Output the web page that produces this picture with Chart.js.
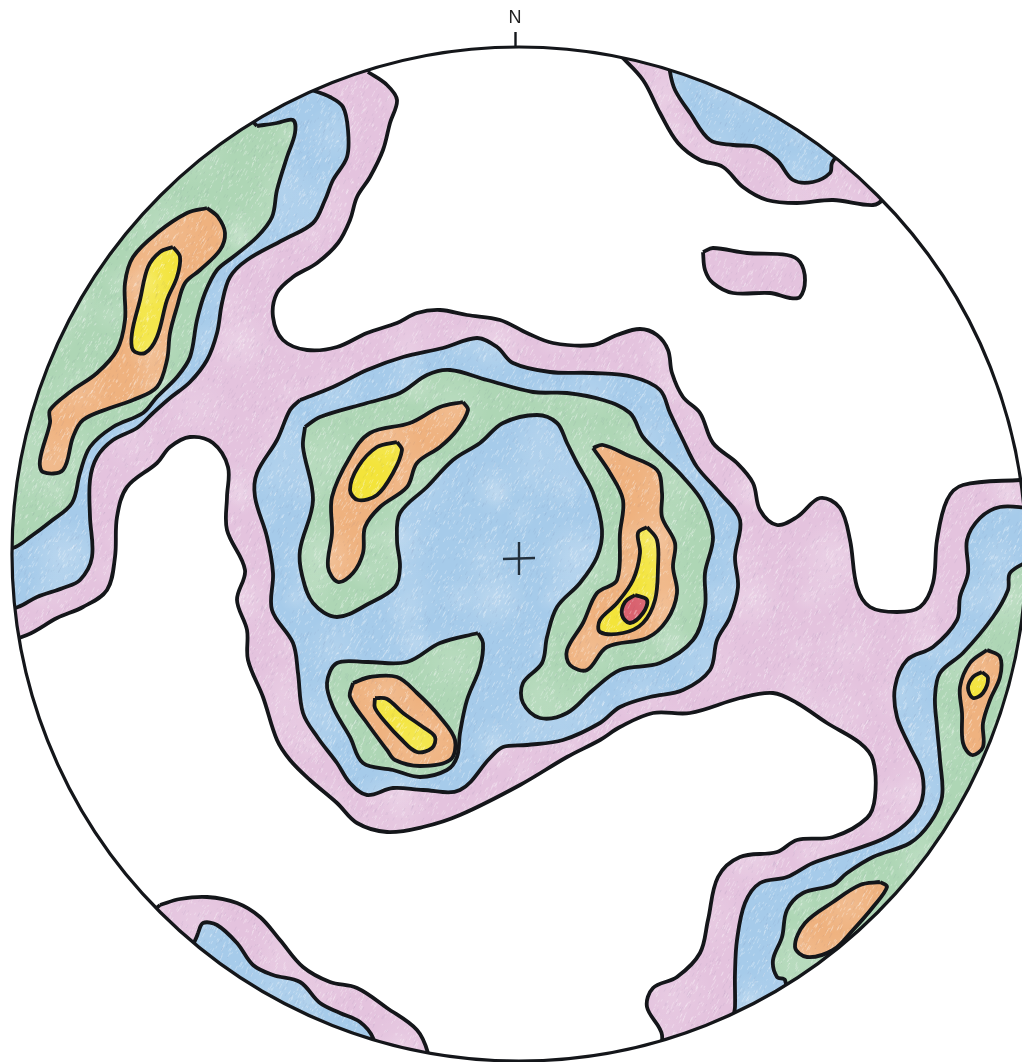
<!DOCTYPE html>
<html>
<head>
<meta charset="utf-8">
<title>Stereonet contours</title>
<script src="https://cdn.jsdelivr.net/npm/chart.js@4/dist/chart.umd.min.js"></script>
<style>
  html, body { margin: 0; padding: 0; background: #fff; }
  canvas { display: block; }
</style>
</head>
<body>
<canvas id="net" width="1022" height="1062"></canvas>
<script>
// axis and net outline
const northTicks = [515];
const northLabels = ['N'];
const netCentre = [519, 554];
const netRadius = 507;
const crossH = [[503, 559], [535, 558]];
const crossV = [[519, 542], [519, 575]];

// contour outlines. points past the rim get clipped by the net circle
const pinkMain = [[368,72],[387,85],[397,100],[390,123],[383,150],[370,177],[357,197],[350,220],[338,243],[317,263],[293,277],[277,293],[273,317],[283,340],[307,350],[337,347],[367,333],[397,323],[417,313],[440,310],[467,315],[500,320],[527,333],[553,343],[593,345],[617,335],[640,329],[657,335],[668,350],[672,373],[683,397],[700,413],[713,443],[737,463],[753,483],[760,510],[777,525],[797,517],[820,498],[840,508],[850,540],[857,587],[870,607],[897,612],[920,607],[933,583],[937,540],[947,500],[963,485],[1020,480],[1060,478],[1070,1100],[660,1100],[662,1035],[647,1007],[653,988],[677,977],[700,953],[708,920],[718,877],[740,857],[777,852],[797,840],[833,837],[867,818],[875,797],[873,760],[860,743],[827,723],[797,703],[773,693],[740,698],[690,713],[653,713],[620,727],[600,740],[567,757],[520,785],[460,815],[423,827],[387,832],[357,823],[337,803],[310,780],[290,760],[277,740],[263,697],[248,660],[247,630],[237,600],[245,570],[227,530],[227,497],[228,467],[213,443],[190,437],[170,447],[157,463],[127,487],[117,517],[115,557],[107,590],[83,607],[57,618],[27,635],[-10,645],[-60,640],[-60,-20],[368,-20],[368,72]];
const pinkNE = [[620,55],[643,80],[660,113],[678,143],[700,160],[723,167],[743,187],[767,200],[797,203],[833,200],[873,205],[884,198],[900,170],[700,30],[620,55]];
const pinkIsland = [[703,252],[713,248],[747,253],[787,255],[800,262],[805,280],[800,297],[790,298],[770,293],[733,293],[713,283],[705,270],[703,252]];
const pinkSW = [[160,905],[180,899],[207,897],[237,903],[260,917],[280,940],[303,967],[330,982],[357,988],[387,1008],[417,1030],[428,1053],[430,1075],[140,925],[160,905]];

const blueNW = [[312,90],[330,97],[343,107],[348,130],[347,157],[333,180],[325,200],[313,223],[283,240],[247,260],[230,277],[222,303],[217,333],[207,360],[190,382],[170,398],[153,413],[137,428],[113,440],[97,457],[90,480],[90,517],[92,557],[80,580],[63,588],[37,597],[18,607],[-30,620],[-30,30],[300,30],[312,90]];
const blueCentre = [[300,400],[333,387],[367,370],[403,357],[443,348],[477,338],[497,347],[513,363],[550,372],[593,373],[633,377],[660,390],[670,413],[683,440],[697,467],[720,493],[740,520],[735,557],[738,587],[730,617],[717,640],[710,670],[683,690],[650,697],[620,707],[600,723],[563,740],[527,745],[503,747],[490,758],[460,790],[423,790],[393,788],[367,795],[350,783],[337,763],[318,738],[303,713],[298,673],[293,643],[272,610],[273,573],[267,537],[255,497],[257,473],[277,440],[290,410],[300,400]];
const blueSE = [[1030,508],[1000,507],[980,518],[967,540],[968,573],[960,597],[957,620],[933,647],[907,660],[895,687],[897,717],[910,747],[922,773],[922,800],[910,820],[887,837],[853,850],[813,863],[787,877],[760,883],[745,903],[737,940],[735,973],[735,1007],[733,1040],[1060,1060],[1060,508],[1030,508]];
const blueNE = [[668,50],[670,72],[675,90],[690,113],[710,140],[733,145],[757,147],[777,160],[793,180],[813,182],[830,173],[832,163],[850,130],[700,40],[668,50]];
const blueSW = [[198,933],[203,923],[217,925],[237,943],[253,965],[273,975],[300,982],[320,1003],[340,1013],[360,1022],[373,1038],[375,1060],[190,965],[198,933]];

const greenNW = [[257,126],[277,123],[293,120],[295,133],[287,157],[277,190],[272,217],[257,237],[233,257],[217,270],[205,293],[197,320],[190,357],[177,377],[157,397],[143,413],[113,427],[90,447],[80,473],[72,503],[50,522],[30,537],[13,548],[-30,555],[-30,40],[230,100],[257,126]];
const greenRing = [[305,427],[320,417],[367,403],[400,393],[427,375],[450,370],[487,380],[533,392],[567,393],[603,400],[630,413],[643,437],[663,457],[683,477],[703,503],[713,537],[705,573],[705,607],[693,640],[660,663],[620,670],[593,690],[567,713],[540,718],[523,703],[523,683],[542,663],[547,637],[557,607],[580,583],[597,557],[602,530],[593,493],[577,463],[567,443],[557,423],[537,415],[503,423],[480,443],[453,460],[427,487],[400,513],[397,540],[400,567],[395,587],[370,603],[337,617],[313,603],[302,575],[300,550],[313,500],[303,447],[305,427]];
const greenSouth = [[478,633],[483,643],[480,667],[467,700],[460,733],[457,757],[447,770],[420,777],[393,770],[363,763],[350,737],[333,707],[327,683],[337,663],[367,662],[407,662],[440,643],[478,633]];
const greenSE = [[1030,560],[1010,573],[1008,590],[993,617],[963,653],[940,673],[935,697],[937,727],[940,760],[942,797],[930,823],[910,843],[873,857],[847,873],[833,885],[803,893],[787,910],[782,937],[773,960],[777,977],[785,980],[800,1040],[1060,1060],[1060,560],[1030,560]];

const orangeNW = [[207,208],[218,217],[225,233],[220,250],[200,270],[185,283],[177,307],[170,333],[167,360],[157,387],[133,400],[110,408],[83,420],[73,437],[63,470],[43,472],[40,460],[50,423],[50,410],[70,392],[97,373],[117,350],[125,320],[125,283],[133,257],[157,233],[187,213],[207,208]];
const orangeInner = [[463,402],[468,410],[457,430],[440,447],[417,463],[407,487],[380,507],[365,527],[363,553],[353,573],[338,582],[328,567],[332,533],[332,497],[350,457],[370,433],[410,423],[440,407],[463,402]];
const orangeEast = [[593,448],[603,445],[627,455],[657,470],[662,493],[662,517],[675,543],[673,567],[677,593],[667,620],[647,638],[607,647],[587,670],[570,665],[567,650],[583,623],[597,593],[617,580],[620,533],[623,500],[610,473],[593,448]];
const orangeSouth = [[353,683],[370,677],[397,677],[417,693],[440,717],[455,740],[450,760],[420,766],[395,760],[387,750],[367,723],[350,697],[353,683]];
const orangeRim = [[987,650],[1000,657],[1000,677],[990,700],[983,723],[983,747],[972,755],[963,743],[962,713],[960,687],[970,663],[987,650]];
const orangeSE = [[880,882],[887,887],[873,907],[853,930],[833,950],[807,957],[795,947],[805,923],[833,902],[860,885],[880,882]];

const yellowNW = [[173,247],[180,257],[177,277],[167,300],[157,337],[145,353],[133,350],[132,333],[140,300],[148,267],[160,252],[173,247]];
const yellowInner = [[397,442],[402,450],[393,473],[377,495],[358,500],[350,490],[358,467],[377,447],[397,442]];
const yellowEast = [[647,527],[657,540],[658,567],[655,600],[643,623],[623,633],[600,632],[600,620],[617,603],[633,580],[640,553],[638,533],[647,527]];
const yellowSouth = [[375,698],[387,699],[403,713],[423,727],[435,737],[432,748],[417,752],[400,738],[387,724],[375,708],[375,698]];
const yellowRim = [[982,672],[988,678],[983,693],[973,698],[968,688],[973,677],[982,672]];
const redPeak = [[635,595],[647,600],[643,613],[630,623],[622,615],[625,602],[635,595]];

const pink = '#e4c3de', blue = '#a6cbea', green = '#aed6b5', orange = '#efb27f', yellow = '#f3e43a', red = '#d9626f';
const ink = '#14161a';

// coloured pencil look, fixed seed so the page renders the same every time
function pencil(colour) {
  const size = 256;
  const c = document.createElement('canvas');
  c.width = c.height = size;
  const g = c.getContext('2d');
  g.fillStyle = colour;
  g.fillRect(0, 0, size, size);
  let seed = 12345;
  const next = () => (seed = (seed * 16807) % 2147483647) / 2147483647;
  // pale patches where the pencil went over lightly, drawn wrapped so the tile has no seams
  for (let i = 0; i < 30; i++) {
    const x = next() * size, y = next() * size, r = 14 + next() * 26;
    for (const dx of [-size, 0, size]) {
      for (const dy of [-size, 0, size]) {
        const soft = g.createRadialGradient(x + dx, y + dy, 0, x + dx, y + dy, r);
        soft.addColorStop(0, 'rgba(255,255,255,0.13)');
        soft.addColorStop(1, 'rgba(255,255,255,0)');
        g.fillStyle = soft;
        g.fillRect(x + dx - r, y + dy - r, r * 2, r * 2);
      }
    }
  }
  g.lineWidth = 1;
  for (let i = 0; i < 3600; i++) {
    const x = next() * size, y = next() * size, l = 1 + next() * 4;
    g.strokeStyle = next() < 0.65 ? 'rgba(255,255,255,0.28)' : 'rgba(70,70,120,0.06)';
    g.beginPath();
    g.moveTo(x, y);
    g.lineTo(x + l * 0.5, y - l);
    g.stroke();
  }
  return g.createPattern(c, 'repeat');
}

const toPoints = a => a.map(p => ({ x: p[0], y: p[1] }));

function contour(points, colour) {
  return {
    data: toPoints(points),
    showLine: true,
    fill: 'shape',
    backgroundColor: pencil(colour),
    borderColor: ink,
    borderWidth: 3.8,
    borderJoinStyle: 'round',
    tension: 0.35,
    capBezierPoints: false,
    pointRadius: 0,
    clip: false
  };
}

function crossArm(points) {
  return { data: toPoints(points), showLine: true, fill: false, borderColor: '#23303c', borderWidth: 2.4, pointRadius: 0, clip: false };
}

// lowest level first, painted in this order
const datasets = [
  contour(pinkMain, pink), contour(pinkNE, pink), contour(pinkIsland, pink), contour(pinkSW, pink),
  contour(blueNW, blue), contour(blueCentre, blue), contour(blueSE, blue), contour(blueNE, blue), contour(blueSW, blue),
  contour(greenNW, green), contour(greenRing, green), contour(greenSouth, green), contour(greenSE, green),
  contour(orangeNW, orange), contour(orangeInner, orange), contour(orangeEast, orange), contour(orangeSouth, orange), contour(orangeRim, orange), contour(orangeSE, orange),
  contour(yellowNW, yellow), contour(yellowInner, yellow), contour(yellowEast, yellow), contour(yellowSouth, yellow), contour(yellowRim, yellow),
  contour(redPeak, red),
  crossArm(crossH), crossArm(crossV)
];
datasets.forEach((d, i) => { d.order = datasets.length - i; });

function netPath(chart) {
  const { x, y } = chart.scales;
  const r = x.getPixelForValue(netRadius) - x.getPixelForValue(0);
  chart.ctx.beginPath();
  chart.ctx.arc(x.getPixelForValue(netCentre[0]), y.getPixelForValue(netCentre[1]), r, 0, Math.PI * 2);
}

const netCircle = {
  id: 'netCircle',
  beforeDatasetsDraw(chart) {
    chart.ctx.save();
    netPath(chart);
    chart.ctx.clip();
  },
  afterDatasetsDraw(chart) {
    const ctx = chart.ctx;
    ctx.restore();
    ctx.save();
    netPath(chart);
    ctx.lineWidth = 3.2;
    ctx.strokeStyle = ink;
    ctx.stroke();
    ctx.restore();
  }
};

new Chart(document.getElementById('net'), {
  type: 'scatter',
  data: { datasets },
  plugins: [netCircle],
  options: {
    responsive: false,
    animation: false,
    layout: { padding: 0 },
    plugins: { legend: { display: false }, tooltip: { enabled: false } },
    scales: {
      x: {
        type: 'linear',
        position: 'top',
        min: 0,
        max: 1022,
        afterBuildTicks: s => { s.ticks = northTicks.map(v => ({ value: v })); },
        afterFit: s => { s.height = 48; },
        border: { display: false },
        grid: { drawOnChartArea: false, drawTicks: true, tickLength: 16, tickWidth: 2.4, color: ink },
        ticks: {
          autoSkip: false,
          maxRotation: 0,
          padding: 3,
          color: '#222',
          font: { family: 'Liberation Sans', size: 18 },
          callback: () => northLabels[0]
        }
      },
      y: { type: 'linear', display: false, reverse: true, min: 48, max: 1062 }
    }
  }
});
</script>
</body>
</html>
